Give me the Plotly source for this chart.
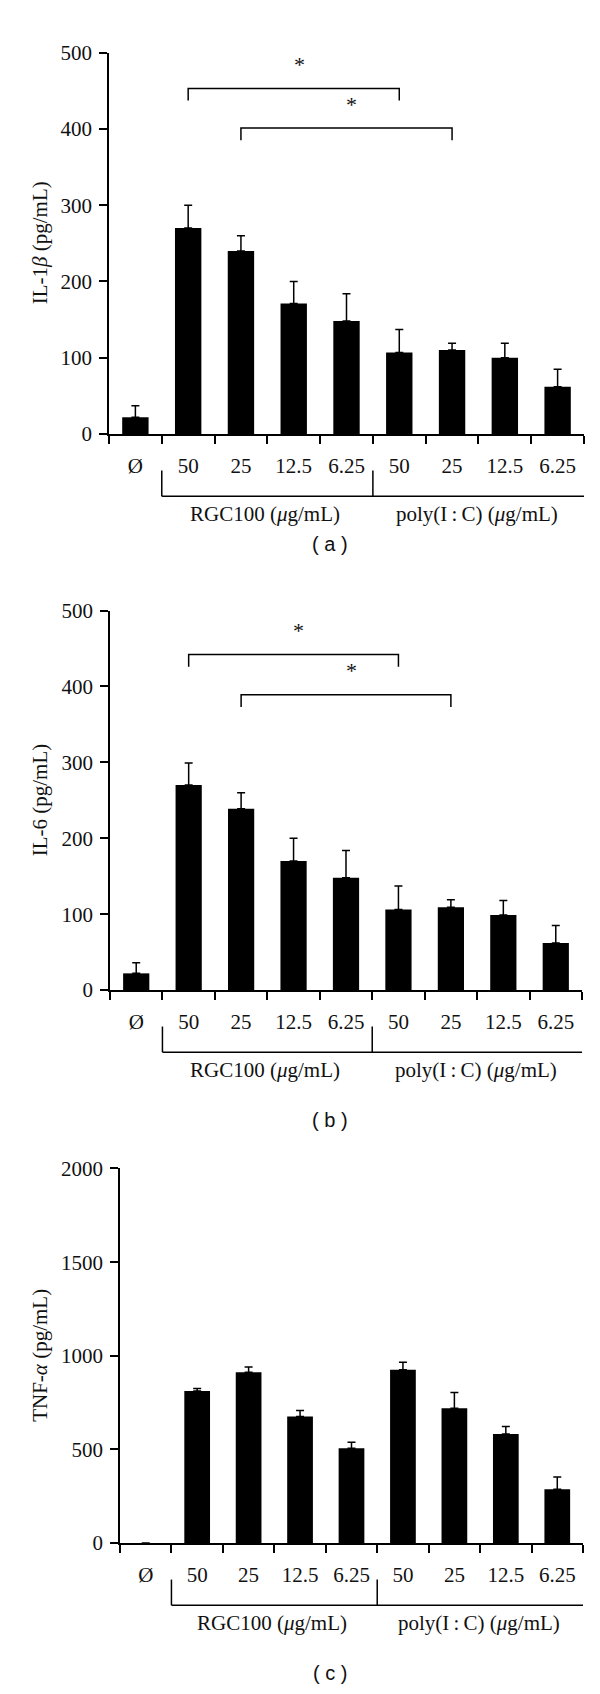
import plotly.graph_objects as go

cats = ["Ø", "50", "25", "12.5", "6.25", "50", "25", "12.5", "6.25"]
groups = ["RGC100 (<i>μ</i>g/mL)", "poly(I\u2009:\u2009C) (<i>μ</i>g/mL)"]
group_spans = [(0.5, 4.5), (4.5, 8.55)]

il1b = [22, 270, 240, 171, 148, 107, 110, 100, 62]
il1b_err = [15, 30, 20, 29, 36, 30, 9, 19, 23]
il6 = [22, 270, 239, 170, 148, 106, 109, 99, 62]
il6_err = [14, 29, 21, 30, 36, 31, 10, 19, 23]
tnf = [0, 812, 912, 676, 507, 925, 720, 583, 288]
tnf_err = [0, 13, 28, 32, 32, 40, 84, 39, 65]

sig_pairs = [(1, 5), (2, 6)]
il1b_sig_y = [453, 401]
il6_sig_y = [442, 389]

H = 1694
W = 600
SERIF = "Liberation Serif"

def py(p):
    return 1 - p / H

panels = [
    dict(vals=il1b, err=il1b_err, title="IL-1<i>β</i> (pg/mL)", ymax=500, dtick=100,
         top=33, bot=420, left=101, right=576, sig=il1b_sig_y, cap="( a )", capy=532),
    dict(vals=il6, err=il6_err, title="IL-6 (pg/mL)", ymax=500, dtick=100,
         top=599, bot=984, left=102, right=574, sig=il6_sig_y, cap="( b )", capy=1116),
    dict(vals=tnf, err=tnf_err, title="TNF-<i>α</i> (pg/mL)", ymax=2000, dtick=500,
         top=1165, bot=1545, left=112, right=575, sig=None, cap="( c )", capy=1677),
]

fig = go.Figure()
shapes = []
annots = []
xs = list(range(len(cats)))

for i, p in enumerate(panels):
    n = "" if i == 0 else str(i + 1)
    xr, yr = "x" + n, "y" + n
    fig.add_trace(go.Bar(
        x=xs, y=p["vals"], xaxis=xr, yaxis=yr, width=0.5,
        marker=dict(color="black", line=dict(width=0)),
        error_y=dict(type="data", symmetric=False, array=p["err"],
                     arrayminus=[0] * len(cats), color="black",
                     thickness=1.5, width=4),
        showlegend=False,
    ))
    fig.update_layout({
        "xaxis" + n: dict(
            domain=[p["left"] / W, p["right"] / W], anchor=yr,
            range=[-0.5, len(cats) - 0.5], showgrid=False, zeroline=False,
            showline=True, linecolor="black", linewidth=1.5,
            tickmode="array", tickvals=xs, ticktext=cats,
            ticks="outside", ticklen=12, tickcolor="rgba(0,0,0,0)",
            tickfont=dict(family=SERIF, size=21, color="#111"),
            minor=dict(tickmode="array",
                       tickvals=[k - 0.5 for k in range(len(cats) + 1)],
                       ticks="outside", ticklen=8, tickwidth=1.5, tickcolor="black"),
            fixedrange=True,
        ),
        "yaxis" + n: dict(
            domain=[py(p["bot"]), py(p["top"])], anchor=xr,
            range=[0, p["ymax"]], dtick=p["dtick"], showgrid=False, zeroline=False,
            showline=True, linecolor="black", linewidth=1.5,
            ticks="outside", ticklen=8, tickwidth=1.5, tickcolor="black",
            ticklabelstandoff=3,
            tickfont=dict(family=SERIF, size=21, color="#111"),
        ),
    })
    # axis title
    annots.append(dict(
        text=p["title"], xref="paper", yref="paper", x=32 / W,
        y=py((p["top"] + p["bot"]) / 2), textangle=-90, showarrow=False,
        font=dict(family=SERIF, size=21, color="#111"),
        xanchor="center", yanchor="middle",
    ))
    # group brackets below the axis
    btop, bbot = py(p["bot"] + 37), py(p["bot"] + 63)
    xs_lines = [group_spans[0][0], group_spans[0][1], group_spans[1][1]]
    for xv in xs_lines:
        shapes.append(dict(type="line", xref=xr, yref="paper", x0=xv, x1=xv,
                           y0=btop, y1=bbot, line=dict(color="black", width=1.5)))
    shapes.append(dict(type="line", xref=xr, yref="paper", x0=xs_lines[0],
                       x1=xs_lines[-1], y0=bbot, y1=bbot,
                       line=dict(color="black", width=1.5)))
    for g, (a, b) in zip(groups, group_spans):
        annots.append(dict(
            text=g, xref=xr, yref="paper", x=(a + b) / 2 - 0.05, y=py(p["bot"] + 81),
            showarrow=False, font=dict(family=SERIF, size=21, color="#111"),
            xanchor="center", yanchor="middle",
        ))
    # significance brackets
    if p["sig"]:
        drop = p["ymax"] * 0.032
        for (a, b), yv in zip(sig_pairs, p["sig"]):
            shapes.append(dict(
                type="path", xref=xr, yref=yr,
                path=f"M {a},{yv - drop} L {a},{yv} L {b},{yv} L {b},{yv - drop}",
                line=dict(color="black", width=1.5),
            ))
            annots.append(dict(
                text="*", xref=xr, yref=yr, x=(a + b) / 2 + 0.1, y=yv + p["ymax"] * 0.025,
                showarrow=False, font=dict(family=SERIF, size=22, color="#111"),
                xanchor="center", yanchor="bottom",
            ))
    # panel caption
    annots.append(dict(
        text=p["cap"], xref="paper", yref="paper", x=322 / W, y=py(p["capy"]),
        showarrow=False, font=dict(family="Liberation Sans", size=20, color="#111"),
        xanchor="center", yanchor="middle",
    ))

fig.update_layout(
    width=W, height=H, margin=dict(l=0, r=0, t=0, b=0),
    paper_bgcolor="white", plot_bgcolor="white",
    bargap=0.5, shapes=shapes, annotations=annots,
)

fig.write_html("out.html")
